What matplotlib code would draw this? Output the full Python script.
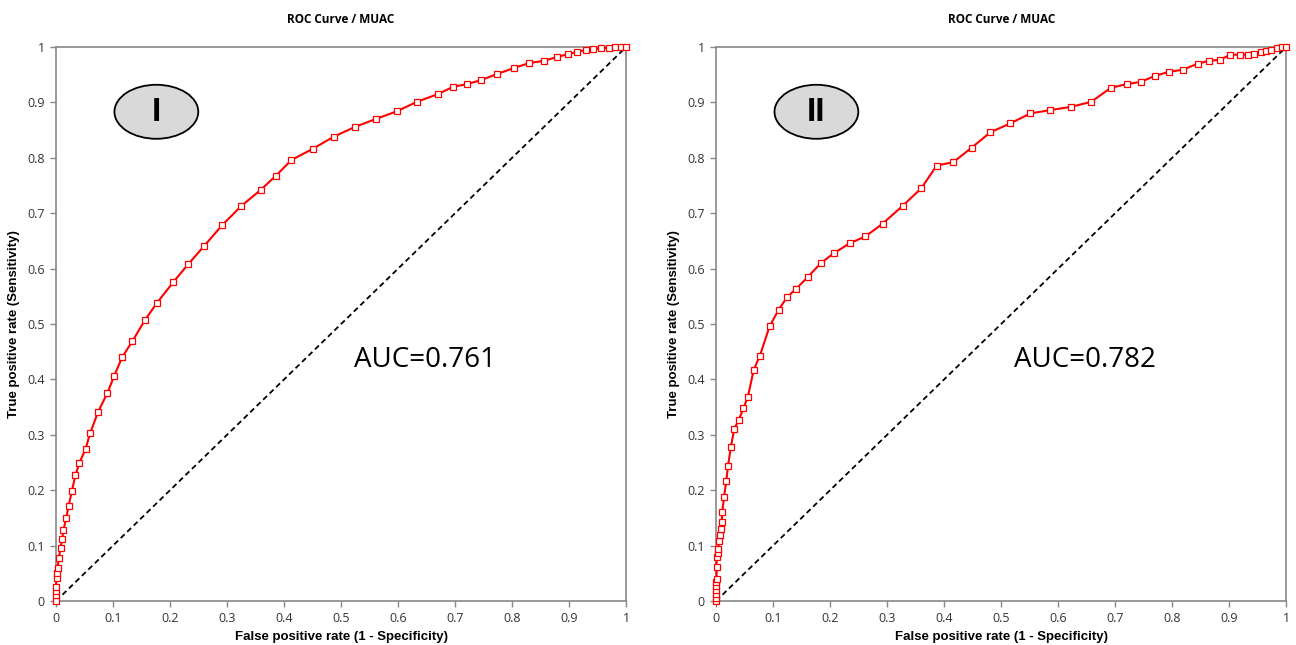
import matplotlib
matplotlib.use("Agg")
import matplotlib.pyplot as plt
from matplotlib.patches import Ellipse

# panel I
fpr_1 = [0, 0, 0, 0, 0.001, 0.002, 0.003, 0.005, 0.008, 0.011, 0.013, 0.018, 0.022, 0.028,
         0.034, 0.041, 0.052, 0.060, 0.074, 0.090, 0.102, 0.116, 0.134, 0.156, 0.177,
         0.206, 0.232, 0.260, 0.292, 0.325, 0.359, 0.385, 0.413, 0.450, 0.487, 0.525,
         0.561, 0.598, 0.633, 0.670, 0.696, 0.721, 0.745, 0.773, 0.803, 0.830, 0.856,
         0.879, 0.898, 0.914, 0.930, 0.942, 0.956, 0.970, 0.980, 0.990, 1.0]
tpr_1 = [0, 0.01, 0.018, 0.026, 0.041, 0.05, 0.06, 0.078, 0.096, 0.112, 0.128, 0.150, 0.171,
         0.199, 0.227, 0.249, 0.275, 0.303, 0.342, 0.375, 0.406, 0.440, 0.469, 0.507,
         0.538, 0.576, 0.608, 0.641, 0.679, 0.713, 0.742, 0.767, 0.796, 0.816, 0.838,
         0.856, 0.870, 0.884, 0.901, 0.915, 0.928, 0.933, 0.940, 0.951, 0.962, 0.971,
         0.975, 0.982, 0.987, 0.991, 0.995, 0.996, 0.998, 0.998, 1.0, 1.0, 1.0]

# panel II
fpr_2 = [0, 0, 0, 0, 0, 0, 0.001, 0.001, 0.001, 0.003, 0.004, 0.005, 0.007, 0.008, 0.010,
         0.011, 0.014, 0.018, 0.021, 0.026, 0.032, 0.040, 0.048, 0.056, 0.066, 0.077,
         0.094, 0.110, 0.125, 0.141, 0.161, 0.184, 0.207, 0.235, 0.262, 0.292, 0.327,
         0.360, 0.387, 0.416, 0.448, 0.481, 0.516, 0.551, 0.586, 0.623, 0.658, 0.692,
         0.720, 0.745, 0.770, 0.794, 0.819, 0.845, 0.865, 0.884, 0.902, 0.919, 0.932,
         0.944, 0.956, 0.965, 0.974, 0.984, 0.993, 1.0]
tpr_2 = [0, 0.005, 0.012, 0.02, 0.027, 0.035, 0.040, 0.061, 0.080, 0.087, 0.093, 0.108,
         0.120, 0.130, 0.143, 0.161, 0.188, 0.217, 0.244, 0.278, 0.311, 0.327, 0.348,
         0.369, 0.417, 0.443, 0.496, 0.526, 0.549, 0.564, 0.585, 0.610, 0.628, 0.646,
         0.658, 0.681, 0.713, 0.745, 0.786, 0.792, 0.818, 0.846, 0.862, 0.880, 0.886,
         0.892, 0.901, 0.926, 0.933, 0.937, 0.948, 0.955, 0.959, 0.970, 0.975, 0.977,
         0.986, 0.986, 0.986, 0.988, 0.991, 0.993, 0.995, 0.998, 1.0, 1.0]

panels = [
    (fpr_1, tpr_1, "I", "AUC=0.761", 0.0432),
    (fpr_2, tpr_2, "II", "AUC=0.782", 0.5525),
]

ticks = [0, 0.1, 0.2, 0.3, 0.4, 0.5, 0.6, 0.7, 0.8, 0.9, 1]
tick_labels = ["0", "0.1", "0.2", "0.3", "0.4", "0.5", "0.6", "0.7", "0.8", "0.9", "1"]

plt.rcParams["font.family"] = ["Open Sans", "DejaVu Sans"]

fig = plt.figure(figsize=(12.96, 6.45), dpi=100)

for fpr, tpr, label, auc_text, left in panels:
    ax = fig.add_axes([left, 0.0682, 0.44, 0.859])
    ax.plot([0, 1], [0, 1], color="black", linestyle=(0, (3, 2)), linewidth=1.3, zorder=2)
    ax.plot(fpr, tpr, color="#ff0000", linewidth=1.5, marker="s", markersize=4.3,
            markerfacecolor="white", markeredgecolor="#ff0000", markeredgewidth=0.9,
            zorder=3, clip_on=False)
    ax.set_xlim(0, 1)
    ax.set_ylim(0, 1)
    ax.set_xticks(ticks)
    ax.set_xticklabels(tick_labels)
    ax.set_yticks(ticks)
    ax.set_yticklabels(tick_labels)
    ax.tick_params(direction="out", length=4, width=1, color="#888888",
                   labelsize=9, labelcolor="#333333", pad=4)
    for sp in ax.spines.values():
        sp.set_color("#888888")
        sp.set_linewidth(1.2)
    ax.set_title("ROC Curve / MUAC", fontsize=8.5, fontweight="bold", pad=17)
    ax.set_xlabel("False positive rate (1 - Specificity)", fontsize=9.5, fontweight="bold",
                  family=["Liberation Sans", "DejaVu Sans"], labelpad=4)
    ax.set_ylabel("True positive rate (Sensitivity)", fontsize=9.5, fontweight="bold",
                  family=["Liberation Sans", "DejaVu Sans"], labelpad=5)

    ell = Ellipse((0.176, 0.883), 0.147, 0.0975, facecolor="#d9d9d9", edgecolor="black",
                  linewidth=1.3, transform=ax.transAxes, zorder=4)
    ax.add_patch(ell)
    ax.text(0.176, 0.881, label, transform=ax.transAxes, ha="center", va="center",
            fontsize=24, fontweight="bold", family=["Liberation Sans", "DejaVu Sans"],
            zorder=5)
    ax.text(0.522, 0.435, auc_text, transform=ax.transAxes, ha="left", va="center",
            fontsize=20, zorder=5)

fig.savefig("out.png", dpi=100)
